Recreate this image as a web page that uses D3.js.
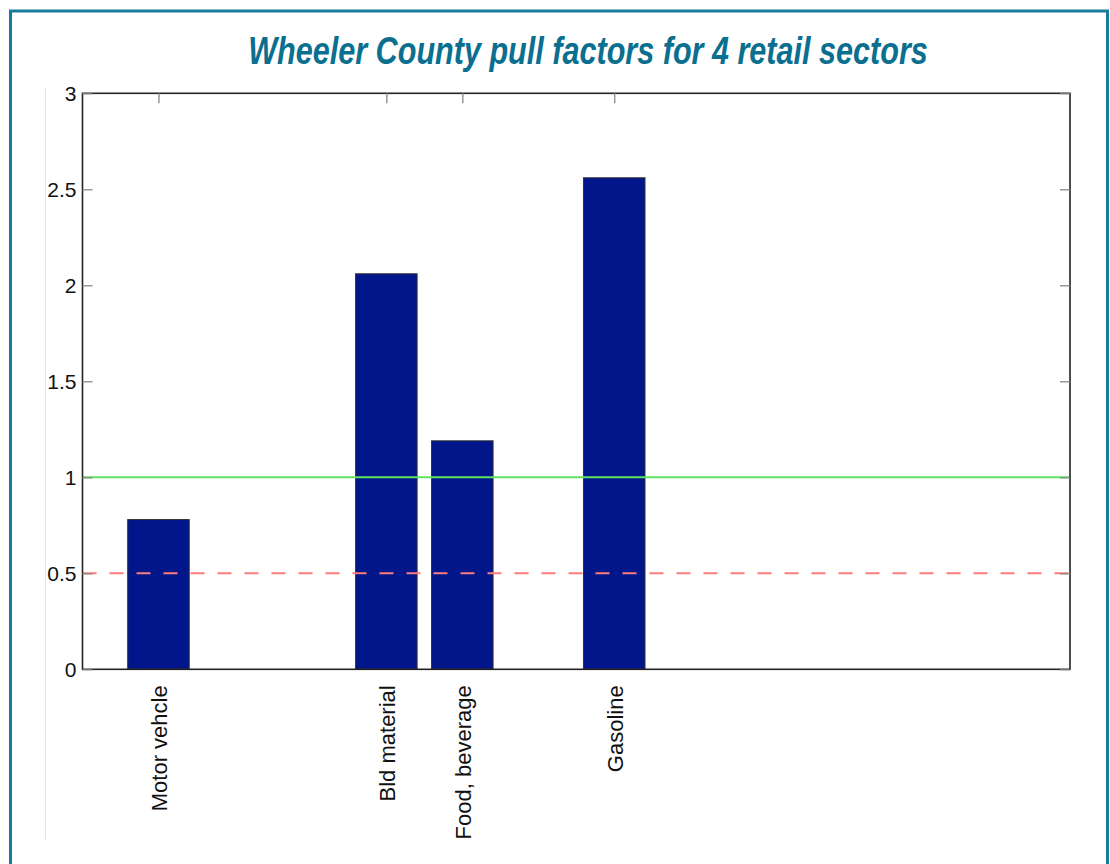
<!DOCTYPE html>
<html><head><meta charset="utf-8">
<script src="https://cdn.jsdelivr.net/npm/d3@7"></script>
<style>html,body{margin:0;padding:0;background:#fff;}svg{display:block;}</style>
</head><body>
<svg id="chart" width="1110" height="864"></svg>
<script>
const categories = ["Motor vehcle", "Bld material", "Food, beverage", "Gasoline"];
const positions = [1, 4, 5, 7];
const values = [0.78, 2.06, 1.19, 2.56];
const yTicks = [0, 0.5, 1, 1.5, 2, 2.5, 3];
const yTickLabels = ["0", "0.5", "1", "1.5", "2", "2.5", "3"];
const refLines = [{value: 1, color: "#5fe35f", dash: null}, {value: 0.5, color: "#ff7b7b", dash: "14,13"}];
const title = "Wheeler County pull factors for 4 retail sectors";

const svg = d3.select("#chart");
const L = 82.5, R = 1070, T = 93.3, B = 669.3;
const x = d3.scaleLinear().domain([0, 13]).range([L, R]);
const y = d3.scaleLinear().domain([0, 3]).range([B, T]);

// outer frame
svg.append("path").attr("d", `M10.5,872 L10.5,11 L1107.5,11 L1107.5,872`)
  .attr("fill", "none").attr("stroke", "#177b99").attr("stroke-width", 3);
// faint left line
svg.append("line").attr("x1", 45.5).attr("x2", 45.5).attr("y1", 88).attr("y2", 841)
  .attr("stroke", "#e4e4e4").attr("stroke-width", 1);

// title, horizontally condensed to the reference width
const tg = svg.append("g").attr("transform", "translate(588,64)");
const tt = tg.append("text").attr("x", 0).attr("y", 0).attr("text-anchor", "middle")
  .attr("font-family", "'Liberation Sans Narrow', 'Liberation Sans', Arial, sans-serif")
  .attr("font-weight", "bold").attr("font-style", "italic").attr("font-size", 39)
  .attr("fill", "#0b6f8f").text(title);
const tw = tt.node().getComputedTextLength();
tt.attr("transform", `scale(${680 / tw},1)`);

// bars
const bw = 0.81;
svg.append("g").selectAll("rect").data(values).join("rect")
  .attr("x", (d, i) => x(positions[i] - bw / 2))
  .attr("width", (d, i) => x(positions[i] + bw / 2) - x(positions[i] - bw / 2))
  .attr("y", d => y(d)).attr("height", d => y(0) - y(d))
  .attr("fill", "#00168a").attr("stroke", "#333").attr("stroke-width", 1);

// reference lines
svg.append("g").selectAll("line").data(refLines).join("line")
  .attr("x1", L).attr("x2", R).attr("y1", d => y(d.value)).attr("y2", d => y(d.value))
  .attr("stroke", d => d.color).attr("stroke-width", 2)
  .attr("stroke-dasharray", d => d.dash);

// axes box
svg.append("rect").attr("x", L).attr("y", T).attr("width", R - L).attr("height", B - T)
  .attr("fill", "none").attr("stroke", "#222").attr("stroke-width", 1.6);

const font = "'Liberation Sans', Arial, Helvetica, sans-serif";
// left axis
const yAxisL = d3.axisLeft(y).tickValues(yTicks).tickFormat((d, i) => yTickLabels[i]).tickSize(-10).tickPadding(16);
const gl = svg.append("g").attr("transform", `translate(${L},0)`).call(yAxisL);
gl.select(".domain").remove();
gl.selectAll(".tick line").attr("stroke", "#888").attr("stroke-width", 1.3);
gl.selectAll(".tick text").attr("font-family", font).attr("font-size", 21).attr("fill", "#111").attr("dy", "0.36em").attr("x", -6);
// right axis ticks
const gr = svg.append("g").attr("transform", `translate(${R},0)`).call(d3.axisRight(y).tickValues(yTicks).tickSize(-10).tickFormat(""));
gr.select(".domain").remove();
gr.selectAll(".tick line").attr("stroke", "#888").attr("stroke-width", 1.3);
// top ticks
const gt = svg.append("g").attr("transform", `translate(0,${T})`).call(d3.axisTop(x).tickValues(positions).tickSize(-10).tickFormat(""));
gt.select(".domain").remove();
gt.selectAll(".tick line").attr("stroke", "#888").attr("stroke-width", 1.3);
// bottom axis labels
const gb = svg.append("g").attr("transform", `translate(0,${B})`).call(d3.axisBottom(x).tickValues(positions).tickSize(0).tickFormat((d, i) => categories[i]));
gb.select(".domain").remove();
gb.selectAll(".tick text").attr("font-family", font).attr("font-size", 22).attr("fill", "#111")
  .attr("text-anchor", "end").attr("transform", "rotate(-90)").attr("x", -16).attr("y", 0).attr("dy", "0.36em");
</script>
</body></html>
